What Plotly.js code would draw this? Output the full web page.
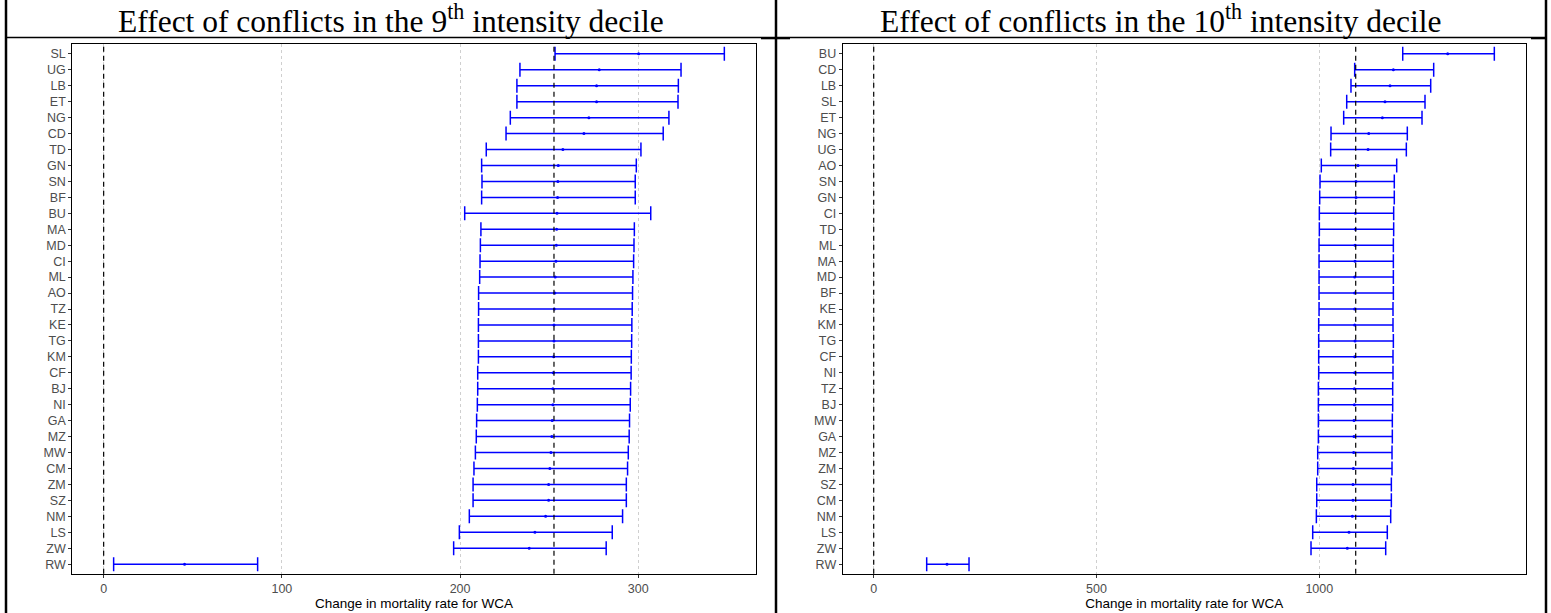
<!DOCTYPE html>
<html>
<head>
<meta charset="utf-8">
<script src="https://cdn.plot.ly/plotly-3.0.1.min.js"></script>
<style>
html,body{margin:0;padding:0;background:#fff;}
#chart{width:1551px;height:613px;}
</style>
</head>
<body>
<div id="chart"></div>
<script>
// ---- Panel 1: 9th intensity decile ----
const countries9 = ["SL","UG","LB","ET","NG","CD","TD","GN","SN","BF","BU","MA","MD","CI","ML","AO","TZ","KE","TG","KM","CF","BJ","NI","GA","MZ","MW","CM","ZM","SZ","NM","LS","ZW","RW"];
const est9  = [300.2,278.1,276.6,276.6,272.3,269.5,257.7,255.1,254.9,254.7,254.4,254.2,254.0,253.8,253.4,253.2,252.9,252.7,252.7,252.5,252.3,252.1,252.1,251.7,251.5,251.0,250.4,249.7,249.7,248.0,242.0,238.8,45.4];
const low9  = [253.3,233.6,231.9,231.9,228.2,225.8,214.7,212.1,212.3,212.1,202.6,211.7,211.4,211.2,211.0,210.4,210.4,210.3,210.3,210.3,209.9,209.9,209.7,209.3,209.1,208.6,207.8,207.3,207.3,205.2,199.6,196.4,5.6];
const high9 = [348.3,324.0,322.5,322.3,317.2,314.0,301.5,298.9,298.3,298.3,307.0,297.8,297.6,297.4,297.0,296.8,296.6,296.4,296.3,296.1,296.0,295.7,295.5,295.1,294.9,294.4,294.0,293.3,293.3,291.2,285.4,282.0,86.4];
const refLine9 = 252.7;
const ticks9 = [0,100,200,300];

// ---- Panel 2: 10th intensity decile ----
const countries10 = ["BU","CD","LB","SL","ET","NG","UG","AO","SN","GN","CI","TD","ML","MA","MD","BF","KE","KM","TG","CF","NI","TZ","BJ","MW","GA","MZ","ZM","SZ","CM","NM","LS","ZW","RW"];
const est10  = [1288.1,1166.2,1158.7,1147.5,1141.5,1110.9,1109.4,1086.9,1082.4,1082.4,1080.9,1080.9,1080.2,1080.2,1079.4,1079.4,1079.4,1079.4,1080.2,1079.4,1079.4,1078.7,1078.7,1077.9,1077.9,1077.2,1076.5,1075.7,1075.7,1074.2,1066.7,1062.9,164.5];
const low10  = [1187.2,1079.4,1071.1,1061.5,1054.7,1026.3,1025.5,1004.5,1001.6,1000.9,1000.1,1000.1,999.4,999.4,999.4,999.4,999.4,998.6,998.6,998.6,998.6,997.9,997.9,997.9,997.9,996.4,996.4,994.2,994.2,993.4,985.2,981.4,118.9];
const high10 = [1392.8,1256.7,1250.0,1237.2,1230.5,1197.5,1195.3,1173.7,1168.3,1168.3,1166.9,1166.9,1166.2,1166.2,1166.2,1166.2,1165.4,1165.4,1166.2,1165.4,1165.4,1164.7,1164.7,1163.9,1163.9,1163.2,1163.2,1161.7,1161.7,1160.2,1152.6,1149.0,213.9];
const refLine10 = 1081.7;
const ticks10 = [0,500,1000];

const xTitle = "Change in mortality rate for WCA";
const title9 = "Effect of conflicts in the 9<sup>th</sup> intensity decile";
const title10 = "Effect of conflicts in the 10<sup>th</sup> intensity decile";

const BLUE = "#0000FF";

function trace(cats, est, lo, hi, xa, ya){
  return {
    type: "scatter", mode: "markers",
    x: est, y: cats, xaxis: xa, yaxis: ya,
    marker: {color: BLUE, size: 3},
    error_x: {
      type: "data", symmetric: false,
      array: hi.map((h,i)=>h-est[i]),
      arrayminus: lo.map((l,i)=>est[i]-l),
      color: BLUE, thickness: 1.5, width: 7
    },
    hoverinfo: "x+y", showlegend: false
  };
}

const data = [
  trace(countries9, est9, low9, high9, "x", "y"),
  trace(countries10, est10, low10, high10, "x2", "y2")
];

const W = 1551, H = 613;
const px = v => v / W;
const py = v => 1 - v / H;

const yDom = [py(573.7), py(44.3)];

function xaxisDef(dom, range, ticks, anchor){
  return {
    domain: dom, range: range, anchor: anchor,
    tickmode: "array", tickvals: ticks, ticktext: ticks.map(String),
    ticks: "outside", ticklen: 3, tickcolor: "#333333", tickwidth: 1,
    tickfont: {family: "Liberation Sans, Arial, sans-serif", size: 12.5, color: "#4d4d4d"},
    showgrid: true, gridcolor: "#cfcfcf", griddash: "dot", gridwidth: 1,
    zeroline: false,
    showline: true, linecolor: "#000000", linewidth: 1, mirror: true,
    title: {text: xTitle, font: {family: "Liberation Sans, Arial, sans-serif", size: 13.5, color: "#000"}, standoff: 2},
    automargin: false, fixedrange: true
  };
}
function yaxisDef(cats, anchor){
  return {
    domain: yDom, anchor: anchor,
    type: "category", categoryorder: "array", categoryarray: cats,
    tickmode: "array", tickvals: cats, ticktext: cats,
    range: [cats.length - 1 + 0.6, -0.6],
    ticks: "outside", ticklen: 3, tickcolor: "#333333", tickwidth: 1,
    tickfont: {family: "Liberation Sans, Arial, sans-serif", size: 12.5, color: "#4d4d4d"},
    showgrid: false, zeroline: false,
    showline: true, linecolor: "#000000", linewidth: 1, mirror: true,
    automargin: false, fixedrange: true
  };
}

function vline(xref, yref, x){
  return {type: "line", xref: xref, yref: yref, x0: x, x1: x, y0: 0, y1: 1,
          line: {color: "#000", width: 1.2, dash: "5px,4px"}, layer: "above"};
}
function pline(x0,y0,x1,y1,w){
  return {type:"line", xref:"paper", yref:"paper", x0:px(x0), x1:px(x1), y0:py(y0), y1:py(y1),
          line:{color:"#000", width:w}};
}

const layout = {
  width: W, height: H,
  margin: {l: 0, r: 0, t: 0, b: 0, pad: 0},
  paper_bgcolor: "#fff", plot_bgcolor: "#fff",
  showlegend: false,
  xaxis: xaxisDef([px(72.3), px(755.7)], [-17.6, 365.9], ticks9, "y"),
  yaxis: yaxisDef(countries9, "x"),
  xaxis2: xaxisDef([px(842.7), px(1525.7)], [-69.6, 1463.2], ticks10, "y2"),
  yaxis2: yaxisDef(countries10, "x2"),
  shapes: [
    vline("x", "y domain", 0),
    vline("x", "y domain", refLine9),
    vline("x2", "y2 domain", 0),
    vline("x2", "y2 domain", refLine10),
    pline(6, 0, 6, 613, 2.5),
    pline(776, 0, 776, 613, 2.5),
    pline(1546, 0, 1546, 613, 2.5),
    pline(6, 37.5, 1546, 37.5, 1.3),
    pline(761, 38.3, 790, 38.3, 2),
    pline(1531, 38.3, 1546, 38.3, 2)
  ],
  annotations: [
    {text: title9, xref: "paper", yref: "paper", x: px(391), y: py(19), xanchor: "center", yanchor: "middle",
     showarrow: false, font: {family: "Liberation Serif, Times New Roman, serif", size: 31.5, color: "#000"}},
    {text: title10, xref: "paper", yref: "paper", x: px(1161), y: py(19), xanchor: "center", yanchor: "middle",
     showarrow: false, font: {family: "Liberation Serif, Times New Roman, serif", size: 31.5, color: "#000"}}
  ]
};

Plotly.newPlot("chart", data, layout, {staticPlot: true, displayModeBar: false});
</script>
</body>
</html>
